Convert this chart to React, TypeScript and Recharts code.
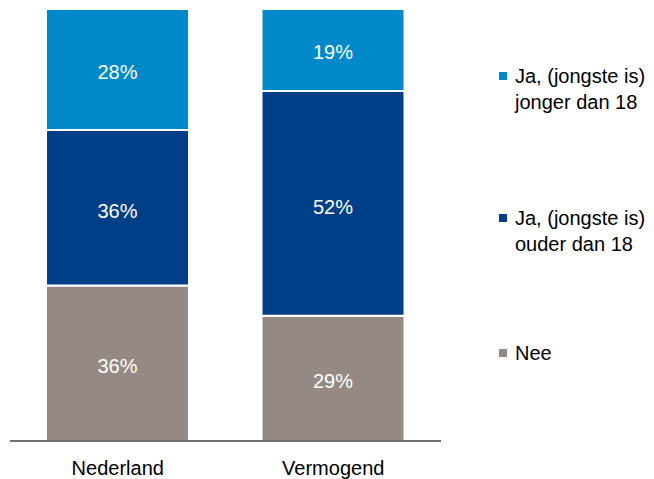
import { Bar, BarChart, LabelList, XAxis, YAxis } from 'recharts';

const categories = ['Nederland', 'Vermogend'];
const neeValues = [36, 29];
const ouderValues = [36, 52];
const jongerValues = [28, 19];

const seriesNames = {
  nee: 'Nee',
  ouder: 'Ja, (jongste is)\nouder dan 18',
  jonger: 'Ja, (jongste is)\njonger dan 18',
};

const colors = {
  nee: '#948a83',
  ouder: '#003f87',
  jonger: '#0088c8',
};

const data = categories.map((name, i) => ({
  name,
  nee: neeValues[i],
  ouder: ouderValues[i],
  jonger: jongerValues[i],
}));

// legend reads top-down, the reverse of the stacking order
const legendKeys = ['jonger', 'ouder', 'nee'] as const;

const pct = (v: unknown) => `${v}%`;

function StackLegend() {
  const gaps = [90, 83, 0];
  return (
    <div
      style={{
        position: 'absolute',
        left: 499,
        top: 63,
        width: 160,
        fontSize: 20,
        lineHeight: '26px',
        color: '#000',
      }}
    >
      {legendKeys.map((key, i) => (
        <div key={key} style={{ display: 'flex', marginBottom: gaps[i] }}>
          <span
            style={{
              width: 8,
              height: 8,
              background: colors[key],
              marginTop: 9,
              marginRight: 8,
              flexShrink: 0,
            }}
          />
          <span style={{ whiteSpace: 'pre' }}>{seriesNames[key]}</span>
        </div>
      ))}
    </div>
  );
}

export default function App() {
  return (
    <div
      style={{
        position: 'absolute',
        left: 0,
        top: 0,
        width: 654,
        height: 479,
        fontFamily: '"Liberation Sans", Arial, sans-serif',
      }}
    >
      <BarChart
        width={654}
        height={479}
        data={data}
        margin={{ top: 9, right: 213, bottom: 0, left: 10 }}
        barSize={143}
      >
        <XAxis
          dataKey="name"
          height={38}
          tickLine={false}
          tickSize={6}
          tickMargin={14}
          axisLine={{ stroke: '#404040', strokeWidth: 1.5 }}
          tick={{ fontSize: 20, fill: '#000' }}
        />
        <YAxis hide domain={[0, 100]} />
        <Bar dataKey="nee" name={seriesNames.nee} stackId="a" fill={colors.nee} stroke="#fff" strokeWidth={2} isAnimationActive={false}>
          <LabelList dataKey="nee" position="center" fill="#fff" fontSize={20} dy={3} formatter={pct} />
        </Bar>
        <Bar dataKey="ouder" name={seriesNames.ouder} stackId="a" fill={colors.ouder} stroke="#fff" strokeWidth={2} isAnimationActive={false}>
          <LabelList dataKey="ouder" position="center" fill="#fff" fontSize={20} dy={3} formatter={pct} />
        </Bar>
        <Bar dataKey="jonger" name={seriesNames.jonger} stackId="a" fill={colors.jonger} stroke="#fff" strokeWidth={2} isAnimationActive={false}>
          <LabelList dataKey="jonger" position="center" fill="#fff" fontSize={20} dy={2} formatter={pct} />
        </Bar>
      </BarChart>
      <StackLegend />
    </div>
  );
}
